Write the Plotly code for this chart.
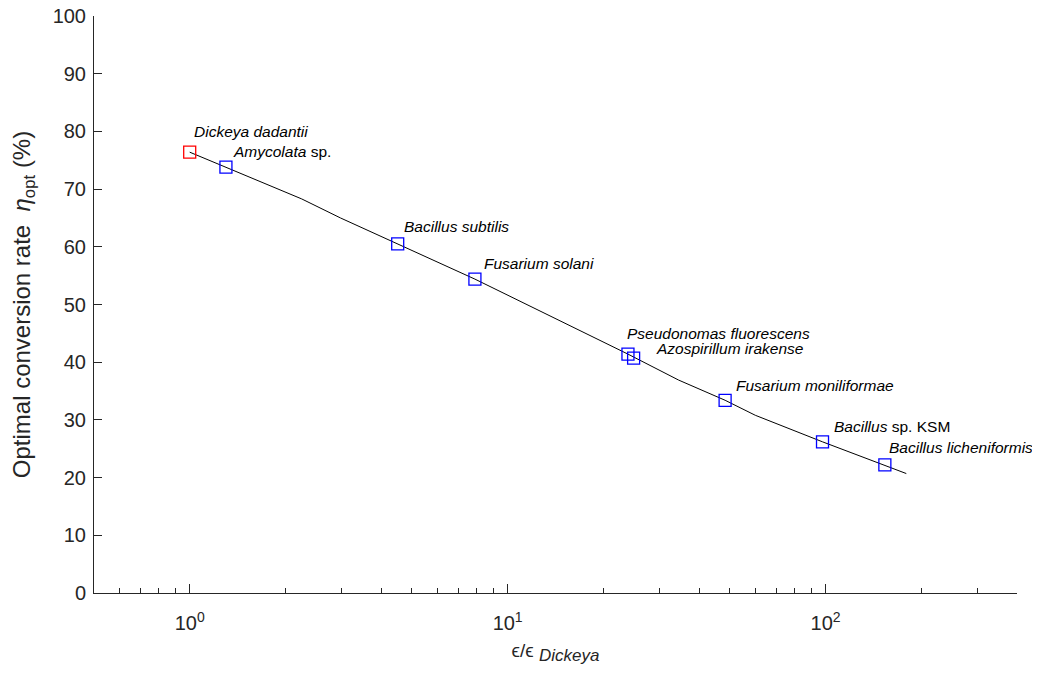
import math
import plotly.graph_objects as go

species = ["Dickeya dadantii", "Amycolata sp.", "Bacillus subtilis", "Fusarium solani",
           "Pseudonomas fluorescens", "Azospirillum irakense", "Fusarium moniliformae",
           "Bacillus sp. KSM", "Bacillus licheniformis"]
labels = ["<i>Dickeya dadantii</i>", "<i>Amycolata</i> sp.", "<i>Bacillus subtilis</i>",
          "<i>Fusarium solani</i>", "<i>Pseudonomas fluorescens</i>", "<i>Azospirillum irakense</i>",
          "<i>Fusarium moniliformae</i>", "<i>Bacillus</i> sp. KSM", "<i>Bacillus licheniformis</i>"]
eps_ratio = [1.0, 1.30, 4.51, 7.89, 23.9, 24.9, 48.3, 97.8, 153.6]
eta_opt = [76.4, 73.8, 60.5, 54.4, 41.4, 40.7, 33.4, 26.2, 22.2]

curve_x = [1.0, 1.30, 2.25, 2.98, 4.51, 7.89, 23.9, 34.5, 48.3, 60.1, 97.8, 153.6, 179.4]
curve_y = [76.4, 73.8, 68.3, 65.0, 60.5, 54.4, 41.4, 36.9, 33.4, 30.8, 26.2, 22.2, 20.7]

label_shift = [(2, 21), (5, 16), (4, 17), (7, 16), (-3, 21), (20, 10), (9, 15), (9, 15), (2, 17)]

ink = "#262626"
fig = go.Figure()
fig.add_trace(go.Scatter(x=curve_x, y=curve_y, mode="lines",
                         line=dict(color="black", width=1), showlegend=False, hoverinfo="skip"))
colors = ["red"] + ["blue"] * (len(eps_ratio) - 1)
fig.add_trace(go.Scatter(x=eps_ratio, y=eta_opt, mode="markers", text=species,
                         marker=dict(symbol="square-open", size=12, color=colors,
                                     line=dict(width=1.3)),
                         showlegend=False))

for x, y, lab, (dx, dy) in zip(eps_ratio, eta_opt, labels, label_shift):
    fig.add_annotation(x=math.log10(x), y=y, xref="x", yref="y", text=lab, showarrow=False,
                       xanchor="left", yanchor="middle", xshift=dx, yshift=dy,
                       font=dict(size=15.5, color="black", family="Liberation Sans, Arial"))

minor_vals = [0.5, 0.6, 0.7, 0.8, 0.9, 2, 3, 4, 5, 6, 7, 8, 9,
              20, 30, 40, 50, 60, 70, 80, 90, 200, 300, 400]

fig.update_layout(
    width=1040, height=677,
    margin=dict(l=86, r=31, t=8, b=92),
    paper_bgcolor="white", plot_bgcolor="white",
    font=dict(family="Liberation Sans, Arial", color=ink),
    xaxis=dict(type="log", range=[-0.301, 2.602], automargin=False,
               tickvals=[1, 10, 100],
               ticktext=["10<sup>0</sup>", "10<sup>1</sup>", "10<sup>2</sup>"],
               ticks="inside", ticklen=9, tickcolor=ink, tickwidth=1,
               ticklabelstandoff=12, ticklabeloverflow="allow",
               minor=dict(ticks="inside", ticklen=5, tickcolor=ink, tickvals=minor_vals),
               showline=True, linecolor=ink, linewidth=1, showgrid=False, zeroline=False,
               tickfont=dict(size=20, color=ink),
               title=dict(text="ϵ/ϵ <sub><span style='font-size:17px'><i>Dickeya</i></span></sub>",
                          font=dict(size=19, color=ink), standoff=10)),
    yaxis=dict(range=[0, 100], dtick=10, ticks="inside", ticklen=8, tickcolor=ink,
               automargin=False, ticklabelstandoff=3, ticklabeloverflow="allow",
               showline=True, linecolor=ink, linewidth=1, showgrid=False, zeroline=False,
               tickfont=dict(size=20, color=ink),
               title=dict(text="Optimal conversion rate  <i>η</i><sub>opt</sub> (%)",
                          font=dict(size=24, color=ink), standoff=26)),
)

fig.write_html("out.html")
